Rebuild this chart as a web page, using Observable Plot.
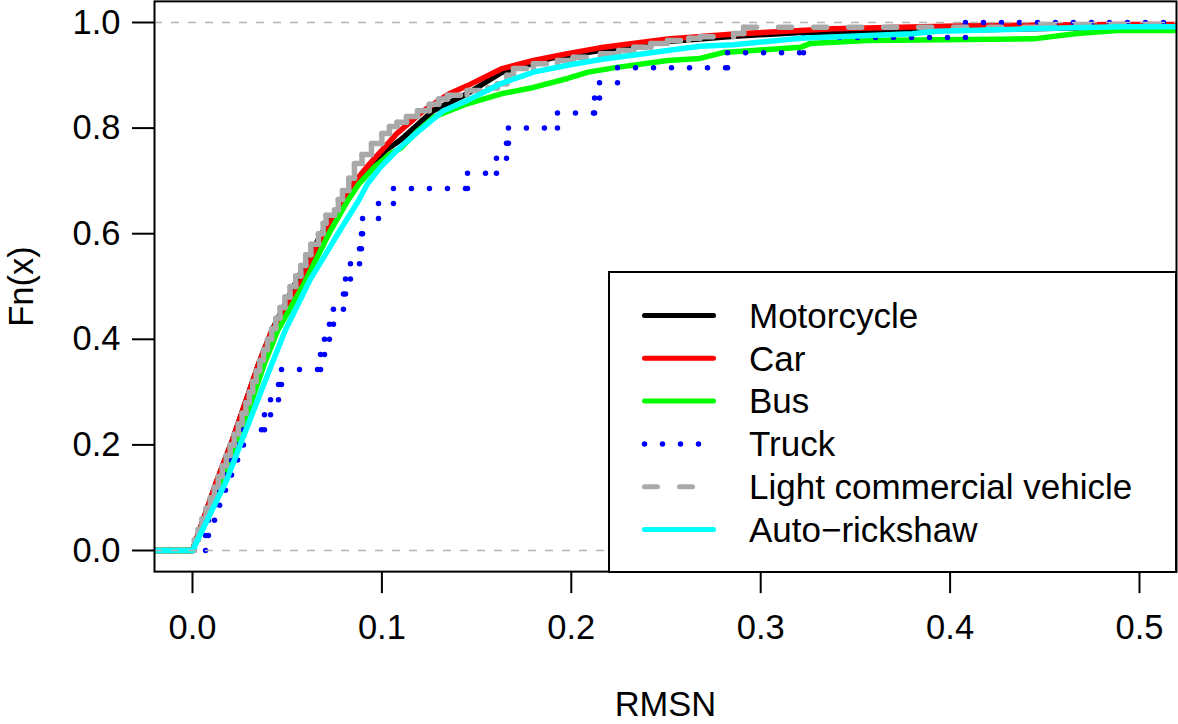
<!DOCTYPE html>
<html>
<head>
<meta charset="utf-8">
<script src="https://cdn.jsdelivr.net/npm/d3@7"></script>
<script src="https://cdn.jsdelivr.net/npm/@observablehq/plot@0.6"></script>
<style>
  html, body { margin: 0; padding: 0; background: #ffffff; }
  #chart { width: 1178px; height: 724px; }
</style>
</head>
<body>
<div id="chart"></div>
<script>
// ---- Series names and colours ----
const seriesNames = ["Motorcycle", "Car", "Bus", "Truck", "Light commercial vehicle", "Auto\u2212rickshaw"];
const seriesColors = ["#000000", "#ff0000", "#00ff00", "#0000ff", "#a9a9a9", "#00ffff"];

// ---- Axis ticks ----
const xTicks = [0, 0.1, 0.2, 0.3, 0.4, 0.5];
const yTicks = [0, 0.2, 0.4, 0.6, 0.8, 1.0];
const xDomain = [-0.02006, 0.51954];
const yDomain = [-0.04, 1.04];

// ---- Motorcycle ECDF ----
const motorcycleX = [0, 0.013, 0.021, 0.035, 0.042, 0.055, 0.068, 0.080, 0.086, 0.093, 0.102, 0.110, 0.127, 0.145, 0.163, 0.189, 0.215, 0.251, 0.286, 0.321, 0.391, 0.486];
const motorcycleF = [0, 0.133, 0.208, 0.354, 0.417, 0.511, 0.600, 0.663, 0.695, 0.726, 0.758, 0.778, 0.833, 0.865, 0.905, 0.932, 0.947, 0.964, 0.974, 0.981, 0.985, 0.991];

// ---- Car ECDF ----
const carX = [0, 0.013, 0.021, 0.035, 0.042, 0.057, 0.069, 0.080, 0.085, 0.092, 0.100, 0.108, 0.122, 0.135, 0.145, 0.163, 0.180, 0.198, 0.215, 0.251, 0.286, 0.321, 0.338, 0.409, 0.486];
const carF = [0, 0.133, 0.208, 0.354, 0.417, 0.506, 0.600, 0.663, 0.695, 0.726, 0.758, 0.790, 0.833, 0.864, 0.880, 0.912, 0.928, 0.941, 0.952, 0.969, 0.978, 0.985, 0.988, 0.994, 0.996];

// ---- Bus ECDF ----
const busX = [0, 0.015, 0.024, 0.038, 0.045, 0.059, 0.072, 0.082, 0.088, 0.096, 0.104, 0.110, 0.119, 0.128, 0.145, 0.163, 0.180, 0.198, 0.209, 0.224, 0.251, 0.268, 0.280, 0.321, 0.326, 0.356, 0.444, 0.467, 0.488];
const busF = [0, 0.133, 0.208, 0.354, 0.417, 0.506, 0.600, 0.663, 0.695, 0.726, 0.750, 0.762, 0.795, 0.822, 0.846, 0.865, 0.877, 0.894, 0.906, 0.915, 0.928, 0.932, 0.943, 0.953, 0.960, 0.966, 0.969, 0.979, 0.985];

// ---- Truck: sorted RMSN sample values (35 observations) ----
const truckRMSN = [0.0069, 0.0084, 0.0116, 0.0143, 0.0174, 0.0206, 0.0238, 0.0269, 0.0380, 0.0412,
                   0.0454, 0.0470, 0.0676, 0.0697, 0.0723, 0.0744, 0.0797, 0.0808, 0.0834, 0.0882,
                   0.0892, 0.0898, 0.0982, 0.1061, 0.1452, 0.1605, 0.1658, 0.1668, 0.1927, 0.2123,
                   0.2149, 0.2244, 0.2825, 0.3226, 0.4081];

// ---- Light commercial vehicle ECDF knots and levels ----
const lcvX = [0.001, 0.003, 0.005, 0.0072, 0.0094, 0.0115, 0.0136, 0.0157, 0.0178, 0.0199,
              0.0220, 0.0242, 0.0262, 0.0282, 0.0300, 0.0318, 0.0336, 0.0355, 0.0375, 0.0396,
              0.0418, 0.0440, 0.0462, 0.0488, 0.0515, 0.0545, 0.0572, 0.0598, 0.0625, 0.0665,
              0.0690, 0.0705, 0.0750, 0.0770, 0.0792, 0.0825, 0.0855, 0.0895, 0.0945, 0.1000,
              0.1040, 0.1080, 0.1130, 0.1188, 0.1250, 0.1300, 0.1346, 0.1450, 0.1560, 0.1610,
              0.1660, 0.1695, 0.1800, 0.1927, 0.2010, 0.2154, 0.2250, 0.2330, 0.2420, 0.2508,
              0.2620, 0.2680, 0.2857, 0.2910, 0.4480];
const lcvF = [0.02, 0.04, 0.06, 0.08, 0.10, 0.12, 0.14, 0.16, 0.18, 0.20,
              0.22, 0.24, 0.26, 0.28, 0.30, 0.32, 0.34, 0.36, 0.38, 0.40,
              0.42, 0.44, 0.46, 0.48, 0.50, 0.52, 0.54, 0.56, 0.58, 0.60,
              0.62, 0.635, 0.645, 0.665, 0.682, 0.705, 0.733, 0.750, 0.771, 0.790,
              0.803, 0.811, 0.822, 0.833, 0.845, 0.855, 0.862, 0.871, 0.876, 0.884,
              0.900, 0.913, 0.922, 0.928, 0.934, 0.941, 0.947, 0.953, 0.960, 0.966,
              0.970, 0.973, 0.979, 0.991, 0.996];

// ---- Auto-rickshaw ECDF ----
const autoX = [0, 0.018, 0.026, 0.042, 0.049, 0.0618, 0.0768, 0.0877, 0.0925, 0.0993, 0.108, 0.118, 0.1325, 0.145, 0.1626, 0.180, 0.198, 0.2154, 0.2508, 0.268, 0.2857, 0.321, 0.380, 0.393, 0.4425, 0.490];
const autoF = [0, 0.133, 0.208, 0.354, 0.417, 0.511, 0.600, 0.663, 0.695, 0.726, 0.758, 0.790, 0.833, 0.852, 0.884, 0.906, 0.919, 0.930, 0.947, 0.955, 0.958, 0.970, 0.9786, 0.9835, 0.988, 0.992];

// ---- Helpers building tables for the library ----
function lineData(xs, fs) {
  const pts = [{x: xDomain[0], F: 0}];
  xs.forEach((x, i) => pts.push({x, F: fs[i]}));
  pts.push({x: xDomain[1], F: fs[fs.length - 1]});
  return pts;
}
function stepSegments(xs, fs) {
  const levels = [0, ...fs];
  const edges = [xDomain[0], ...xs, xDomain[1]];
  const segs = [];
  for (let k = 0; k < levels.length; k++) segs.push({x1: edges[k], x2: edges[k + 1], y1: levels[k], y2: levels[k]});
  for (let k = 1; k < levels.length; k++) segs.push({x1: edges[k], x2: edges[k], y1: levels[k - 1], y2: levels[k]});
  return segs;
}
const truckF = truckRMSN.map((_, i) => (i + 1) / truckRMSN.length);

const LW = 5.5;
const solid = (data, color) => Plot.line(data, {
  x: "x", y: "F", stroke: color, strokeWidth: LW, clip: true,
  strokeLinejoin: "round", strokeLinecap: "round"
});

const plot = Plot.plot({
  width: 1178,
  height: 724,
  marginLeft: 154,
  marginRight: 2,
  marginTop: 0.88,
  marginBottom: 152.88,
  x: {domain: xDomain, label: null},
  y: {domain: yDomain, label: null},
  style: {
    fontFamily: "'Liberation Sans', Arial, Helvetica, sans-serif",
    fontSize: "34.5px",
    color: "black",
    background: "white",
    overflow: "visible"
  },
  marks: [
    solid(lineData(motorcycleX, motorcycleF), seriesColors[0]),
    solid(lineData(carX, carF), seriesColors[1]),
    solid(lineData(busX, busF), seriesColors[2]),
    Plot.link(stepSegments(truckRMSN, truckF), {
      x1: "x1", x2: "x2", y1: "y1", y2: "y2",
      stroke: seriesColors[3], strokeWidth: 5.5, strokeDasharray: "0 18",
      strokeLinecap: "round", clip: true
    }),
    Plot.link(stepSegments(lcvX, lcvF), {
      x1: "x1", x2: "x2", y1: "y1", y2: "y2",
      stroke: seriesColors[4], strokeWidth: LW, strokeDasharray: "13 22",
      strokeLinecap: "round", clip: true
    }),
    solid(lineData(autoX, autoF), seriesColors[5]),
    Plot.ruleY([0, 1], {stroke: "#b3b3b3", strokeWidth: 1.6, strokeDasharray: "8 9"}),
    Plot.frame({stroke: "black", strokeWidth: 2}),
    Plot.axisX({
      ticks: xTicks, tickFormat: d => d.toFixed(1), tickSize: 22, tickPadding: 21,
      strokeWidth: 2, label: null
    }),
    Plot.axisY({
      ticks: yTicks, tickFormat: d => d.toFixed(1), tickSize: 22, tickPadding: 12,
      strokeWidth: 2, label: null
    }),
    Plot.text(["Fn(x)"], {
      text: d => d, frameAnchor: "left", dx: -133, rotate: -90,
      textAnchor: "middle", lineAnchor: "middle", fill: "black"
    }),
    Plot.text(["RMSN"], {
      text: d => d, frameAnchor: "bottom", dy: 133,
      textAnchor: "middle", lineAnchor: "middle", fill: "black"
    })
  ]
});

// ---- Legend (bottom-right, inside the plot region) ----
const svg = d3.select(plot);
const lg = svg.append("g")
  .attr("font-family", "'Liberation Sans', Arial, Helvetica, sans-serif")
  .attr("font-size", 35)
  .attr("text-anchor", "start");
lg.append("rect")
  .attr("x", 609).attr("y", 272).attr("width", 567).attr("height", 300)
  .attr("fill", "white").attr("stroke", "black").attr("stroke-width", 2);
const legendDash = [null, null, null, "0 18", "13 22", null];
seriesNames.forEach((name, i) => {
  const y = 315.5 + i * 42.8;
  const ln = lg.append("line")
    .attr("x1", 644.5).attr("x2", i === 3 ? 710 : 713.5)
    .attr("y1", y).attr("y2", y)
    .attr("stroke", seriesColors[i])
    .attr("stroke-width", i === 3 ? 5.5 : 5)
    .attr("stroke-linecap", "round");
  if (legendDash[i]) ln.attr("stroke-dasharray", legendDash[i]);
  lg.append("text")
    .attr("x", 749).attr("y", y).attr("dy", "0.35em")
    .attr("text-anchor", "start")
    .attr("fill", "black")
    .text(name);
});

document.getElementById("chart").appendChild(plot);
</script>
</body>
</html>
